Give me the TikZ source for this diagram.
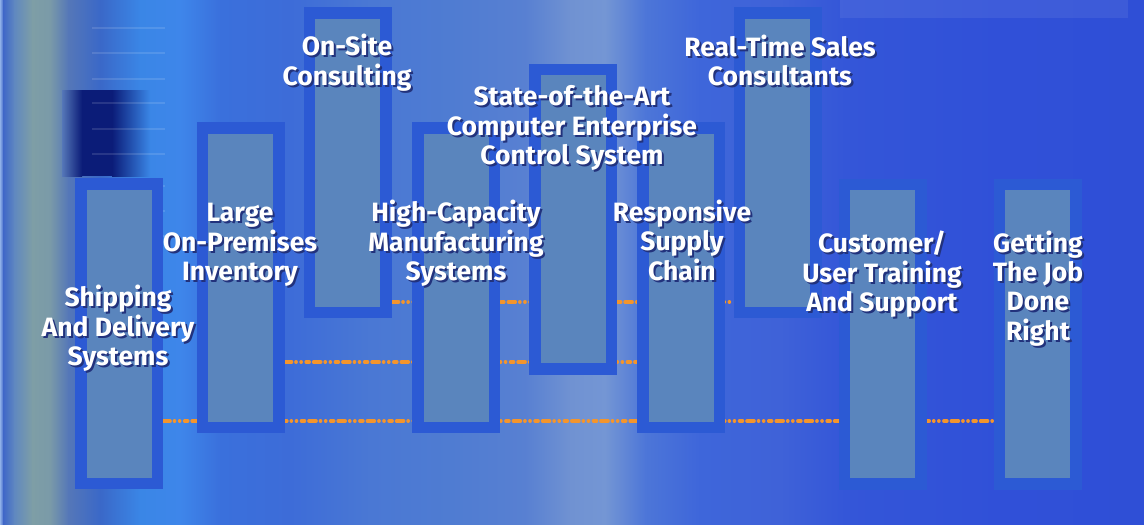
\documentclass[tikz,border=0pt]{standalone}
\usepackage{fontspec}
\setmainfont{Fira Sans}
\usetikzlibrary{fadings}
\pgfdeclarelayer{back}
\pgfdeclarelayer{mid}
\pgfsetlayers{back,mid,main}
\definecolor{colborder}{HTML}{2C5AD4}
\definecolor{colinner}{HTML}{5A85BD}
\definecolor{dotorange}{HTML}{F4952C}
\definecolor{navyd}{HTML}{0B1C78}
\definecolor{shadowb}{HTML}{22327C}
\newcommand\bgseg[4]{\definecolor{c#2}{HTML}{#2}\definecolor{c#4}{HTML}{#4}%
  \shade[left color=c#2, right color=c#4] (#1,0) rectangle (#3+0.6,525);}
\newcommand\shlines[1]{\begin{tabular}{@{}c@{}}#1\end{tabular}}
\newcommand\shtext[1]{%
  \makebox[0pt][l]{\hspace*{2pt}\raisebox{-2pt}[0pt][0pt]{\color{shadowb}\shlines{#1}}}%
  \shlines{#1}}
\begin{document}
\begin{tikzpicture}[x=1pt,y=-1pt,
  colbox/.style={draw=colborder, line width=11.5pt, fill=colinner,
    minimum width=76.5pt, minimum height=299.5pt, inner sep=0pt},
  lbl/.style={text=white, font=\bfseries\fontsize{26.5}{29}\selectfont,
    inner sep=0pt},
  dots/.style={draw=dotorange, line width=3.6pt, line cap=round,
    dash pattern=on 7pt off 4.5pt on 0.1pt off 5pt on 0.1pt off 5pt on 3pt off 4.5pt}]
\useasboundingbox (0,0) rectangle (1144,525);
\begin{pgfonlayer}{back}
\bgseg{0}{8FB0E8}{3}{3F66C8}
\bgseg{3}{3F66C8}{14}{5F88C0}
\bgseg{14}{5F88C0}{32}{7E9EA6}
\bgseg{32}{7E9EA6}{50}{7A9AA8}
\bgseg{50}{7A9AA8}{68}{5577B8}
\bgseg{68}{5577B8}{100}{3A68C8}
\bgseg{100}{3A68C8}{140}{3A86E6}
\bgseg{140}{3A86E6}{180}{3E86EA}
\bgseg{180}{3E86EA}{220}{3A70DC}
\bgseg{220}{3A70DC}{290}{3D6CD8}
\bgseg{290}{3D6CD8}{370}{4A78D4}
\bgseg{370}{4A78D4}{450}{4F7CD2}
\bgseg{450}{4F7CD2}{525}{5880D2}
\bgseg{525}{5880D2}{570}{7092D2}
\bgseg{570}{7092D2}{605}{7496D4}
\bgseg{605}{7496D4}{645}{4D76D8}
\bgseg{645}{4D76D8}{700}{3E66DA}
\bgseg{700}{3E66DA}{780}{3F62D8}
\bgseg{780}{3F62D8}{845}{3456D8}
\bgseg{845}{3456D8}{1000}{3050D8}
\bgseg{1000}{3050D8}{1144}{2F4FD6}
% dark navy band at the left
\shade[left color=c5577B8, right color=navyd] (62,90) rectangle (82,176);
\fill[navyd] (82,90) rectangle (112,176);
\shade[left color=navyd, right color=c3A86E6] (112,90) rectangle (150,176);
% faint horizontal streaks
\foreach \yy in {27,52,78,102,128,153,185,210,235}
  \fill[white, opacity=0.12] (92,\yy) rectangle (165,\yy+2);
% light band at top right
\fill[white, opacity=0.07] (840,0) rectangle (1128,18);
\end{pgfonlayer}

% columns
\node[colbox] (c1) at (119,333.5) {};
\node[colbox] (c2) at (240.5,277.5) {};
\node[colbox] (c3) at (347.5,162.5) {};
\node[colbox] (c4) at (456,277.5) {};
\node[colbox] (c5) at (573,219) {};
\node[colbox] (c6) at (681,277.5) {};
\node[colbox] (c7) at (777.5,162.5) {};
\node[colbox] (c8) at (882.5,334) {};
\node[colbox] (c9) at (1037.5,334) {};

% orange dotted lines behind the columns
\coordinate (ytop) at (0,302);
\coordinate (ymid) at (0,362);
\coordinate (ybot) at (0,421);
\begin{pgfonlayer}{mid}
\draw[dots] (c3.east |- ytop) -- (c7.west |- ytop);
\draw[dots] (c2.east |- ymid) -- (c6.west |- ymid);
\draw[dots] (c1.east |- ybot) -- (c9.west |- ybot);
\end{pgfonlayer}

% labels
\node[lbl] (t1) at (118,330) {\shtext{Shipping\\And Delivery\\Systems}};
\node[lbl] (t2) at (240,245) {\shtext{Large\\On-Premises\\Inventory}};
\node[lbl] (t3) at (347,64.5) {\shtext{On-Site\\Consulting}};
\node[lbl] (t4) at (456,245) {\shtext{High-Capacity\\Manufacturing\\Systems}};
\node[lbl] (t5) at (572,129) {\shtext{State-of-the-Art\\Computer Enterprise\\Control System}};
\node[lbl] (t6) at (682,245) {\shtext{Responsive\\Supply\\Chain}};
\node[lbl] (t7) at (780,64.5) {\shtext{Real-Time Sales\\Consultants}};
\node[lbl] (t8) at (882,275.5) {\shtext{Customer/\\User Training\\And Support}};
\node[lbl] (t9) at (1038,290) {\shtext{Getting\\The Job\\Done\\Right}};
\end{tikzpicture}
\end{document}
